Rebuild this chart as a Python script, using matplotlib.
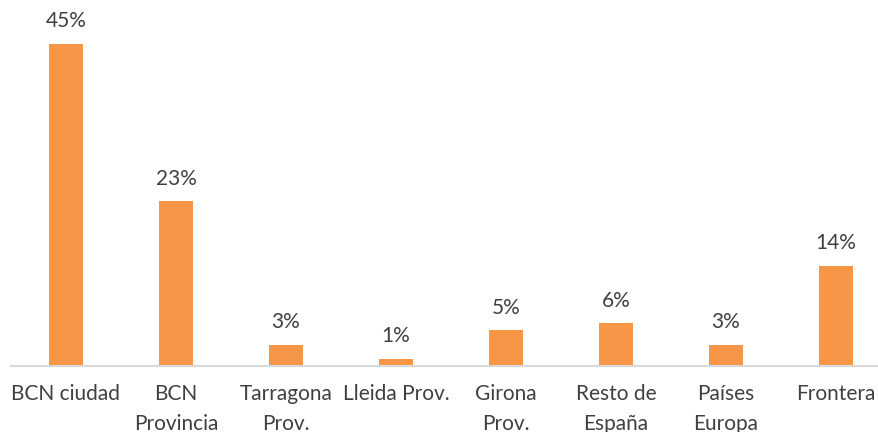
import matplotlib
matplotlib.use("Agg")
import matplotlib.pyplot as plt

categories = ["BCN ciudad", "BCN\nProvincia", "Tarragona\nProv.", "Lleida Prov.",
              "Girona\nProv.", "Resto de\nEspaña", "Países\nEuropa", "Frontera"]
values = [45, 23, 3, 1, 5, 6, 3, 14]
labels = ["45%", "23%", "3%", "1%", "5%", "6%", "3%", "14%"]

plt.rcParams['font.family'] = ['Lato', 'DejaVu Sans']
text_color = "#404040"

fig = plt.figure(figsize=(8.79, 4.32), dpi=100)
ax = fig.add_axes([11/879, 66/432, 880/879, 366/432])
x = list(range(len(categories)))
bars = ax.bar(x, values, width=0.31, color="#F79646", zorder=2)
ax.set_xlim(-0.5, 7.5)
ax.set_ylim(0, 366/7.16)
ax.bar_label(bars, labels=labels, padding=9, fontsize=15, color=text_color)

ax.set_xticks(x)
ax.set_xticklabels(categories, fontsize=15, color=text_color, linespacing=1.62, va="top")
ax.tick_params(axis="x", length=0, pad=13)
ax.set_yticks([])
for s in ["top", "right", "left"]:
    ax.spines[s].set_visible(False)
ax.spines["bottom"].set_color("#D9D9D9")
ax.spines["bottom"].set_linewidth(1.5)
ax.patch.set_visible(False)

fig.savefig("out.png", dpi=100)
